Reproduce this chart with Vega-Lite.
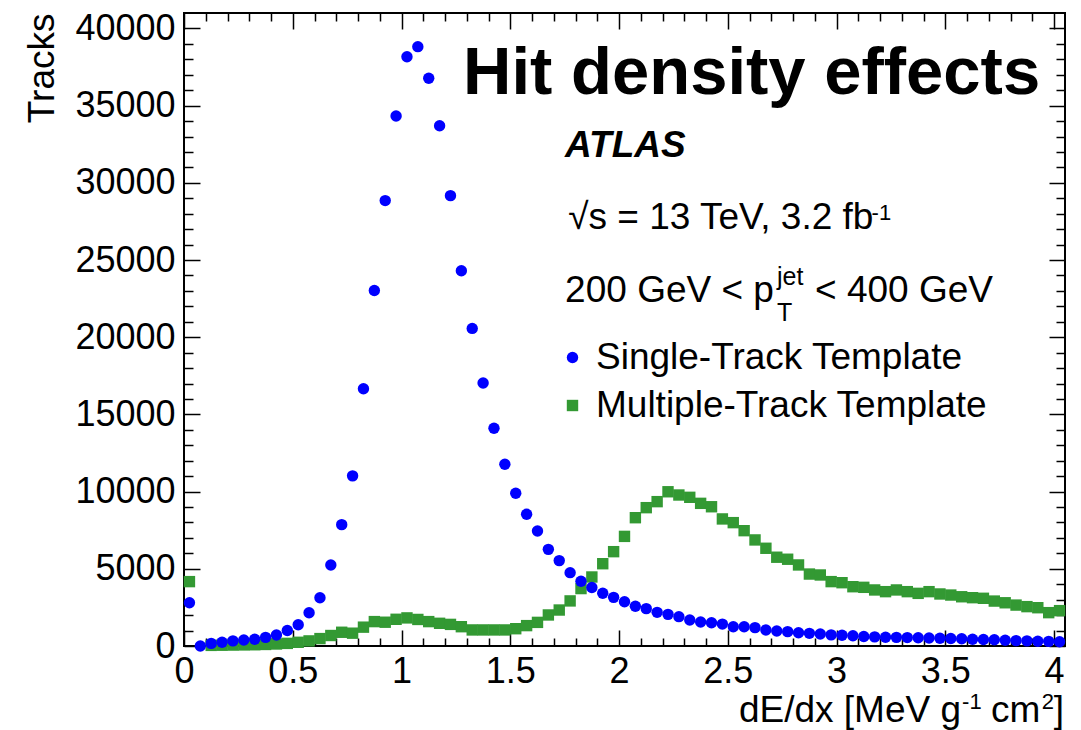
{
  "$schema": "https://vega.github.io/schema/vega-lite/v6.json",
  "width": 881,
  "height": 633,
  "autosize": "none",
  "padding": {"left": 184, "top": 13, "right": 16, "bottom": 84},
  "background": "white",
  "config": {
    "view": {"stroke": "black", "strokeWidth": 2},
    "font": "Liberation Sans",
    "axis": {"grid": false, "domain": false, "labelFont": "Liberation Sans", "labelFontSize": 36, "labelColor": "black", "tickColor": "black", "tickWidth": 1.5, "labelFlush": false, "labelOverlap": false, "labelBound": false, "title": null}
  },
  "datasets": {
    "tracks": [
      {"template": "Multiple-Track Template", "dedx": 0.025, "tracks": 4170},
      {"template": "Multiple-Track Template", "dedx": 0.125, "tracks": 40},
      {"template": "Multiple-Track Template", "dedx": 0.175, "tracks": 50},
      {"template": "Multiple-Track Template", "dedx": 0.225, "tracks": 60},
      {"template": "Multiple-Track Template", "dedx": 0.275, "tracks": 70},
      {"template": "Multiple-Track Template", "dedx": 0.325, "tracks": 80},
      {"template": "Multiple-Track Template", "dedx": 0.375, "tracks": 100},
      {"template": "Multiple-Track Template", "dedx": 0.425, "tracks": 130},
      {"template": "Multiple-Track Template", "dedx": 0.475, "tracks": 170},
      {"template": "Multiple-Track Template", "dedx": 0.525, "tracks": 240},
      {"template": "Multiple-Track Template", "dedx": 0.575, "tracks": 330},
      {"template": "Multiple-Track Template", "dedx": 0.625, "tracks": 480},
      {"template": "Multiple-Track Template", "dedx": 0.675, "tracks": 680},
      {"template": "Multiple-Track Template", "dedx": 0.725, "tracks": 890},
      {"template": "Multiple-Track Template", "dedx": 0.775, "tracks": 830},
      {"template": "Multiple-Track Template", "dedx": 0.825, "tracks": 1220},
      {"template": "Multiple-Track Template", "dedx": 0.875, "tracks": 1580},
      {"template": "Multiple-Track Template", "dedx": 0.925, "tracks": 1540},
      {"template": "Multiple-Track Template", "dedx": 0.975, "tracks": 1730},
      {"template": "Multiple-Track Template", "dedx": 1.025, "tracks": 1820},
      {"template": "Multiple-Track Template", "dedx": 1.075, "tracks": 1720},
      {"template": "Multiple-Track Template", "dedx": 1.125, "tracks": 1580},
      {"template": "Multiple-Track Template", "dedx": 1.175, "tracks": 1470},
      {"template": "Multiple-Track Template", "dedx": 1.225, "tracks": 1400},
      {"template": "Multiple-Track Template", "dedx": 1.275, "tracks": 1250},
      {"template": "Multiple-Track Template", "dedx": 1.325, "tracks": 1040},
      {"template": "Multiple-Track Template", "dedx": 1.375, "tracks": 1040},
      {"template": "Multiple-Track Template", "dedx": 1.425, "tracks": 1040},
      {"template": "Multiple-Track Template", "dedx": 1.475, "tracks": 1040},
      {"template": "Multiple-Track Template", "dedx": 1.525, "tracks": 1120},
      {"template": "Multiple-Track Template", "dedx": 1.575, "tracks": 1320},
      {"template": "Multiple-Track Template", "dedx": 1.625, "tracks": 1530},
      {"template": "Multiple-Track Template", "dedx": 1.675, "tracks": 2010},
      {"template": "Multiple-Track Template", "dedx": 1.725, "tracks": 2330},
      {"template": "Multiple-Track Template", "dedx": 1.775, "tracks": 2920},
      {"template": "Multiple-Track Template", "dedx": 1.825, "tracks": 3720},
      {"template": "Multiple-Track Template", "dedx": 1.875, "tracks": 4470},
      {"template": "Multiple-Track Template", "dedx": 1.925, "tracks": 5330},
      {"template": "Multiple-Track Template", "dedx": 1.975, "tracks": 6110},
      {"template": "Multiple-Track Template", "dedx": 2.025, "tracks": 7100},
      {"template": "Multiple-Track Template", "dedx": 2.075, "tracks": 8310},
      {"template": "Multiple-Track Template", "dedx": 2.125, "tracks": 8960},
      {"template": "Multiple-Track Template", "dedx": 2.175, "tracks": 9350},
      {"template": "Multiple-Track Template", "dedx": 2.225, "tracks": 9990},
      {"template": "Multiple-Track Template", "dedx": 2.275, "tracks": 9780},
      {"template": "Multiple-Track Template", "dedx": 2.325, "tracks": 9630},
      {"template": "Multiple-Track Template", "dedx": 2.375, "tracks": 9240},
      {"template": "Multiple-Track Template", "dedx": 2.425, "tracks": 9020},
      {"template": "Multiple-Track Template", "dedx": 2.475, "tracks": 8230},
      {"template": "Multiple-Track Template", "dedx": 2.525, "tracks": 7990},
      {"template": "Multiple-Track Template", "dedx": 2.575, "tracks": 7470},
      {"template": "Multiple-Track Template", "dedx": 2.625, "tracks": 6870},
      {"template": "Multiple-Track Template", "dedx": 2.675, "tracks": 6330},
      {"template": "Multiple-Track Template", "dedx": 2.725, "tracks": 5750},
      {"template": "Multiple-Track Template", "dedx": 2.775, "tracks": 5620},
      {"template": "Multiple-Track Template", "dedx": 2.825, "tracks": 5250},
      {"template": "Multiple-Track Template", "dedx": 2.875, "tracks": 4660},
      {"template": "Multiple-Track Template", "dedx": 2.925, "tracks": 4600},
      {"template": "Multiple-Track Template", "dedx": 2.975, "tracks": 4170},
      {"template": "Multiple-Track Template", "dedx": 3.025, "tracks": 4100},
      {"template": "Multiple-Track Template", "dedx": 3.075, "tracks": 3840},
      {"template": "Multiple-Track Template", "dedx": 3.125, "tracks": 3800},
      {"template": "Multiple-Track Template", "dedx": 3.175, "tracks": 3630},
      {"template": "Multiple-Track Template", "dedx": 3.225, "tracks": 3520},
      {"template": "Multiple-Track Template", "dedx": 3.275, "tracks": 3630},
      {"template": "Multiple-Track Template", "dedx": 3.325, "tracks": 3520},
      {"template": "Multiple-Track Template", "dedx": 3.375, "tracks": 3410},
      {"template": "Multiple-Track Template", "dedx": 3.425, "tracks": 3520},
      {"template": "Multiple-Track Template", "dedx": 3.475, "tracks": 3370},
      {"template": "Multiple-Track Template", "dedx": 3.525, "tracks": 3300},
      {"template": "Multiple-Track Template", "dedx": 3.575, "tracks": 3190},
      {"template": "Multiple-Track Template", "dedx": 3.625, "tracks": 3130},
      {"template": "Multiple-Track Template", "dedx": 3.675, "tracks": 3090},
      {"template": "Multiple-Track Template", "dedx": 3.725, "tracks": 2910},
      {"template": "Multiple-Track Template", "dedx": 3.775, "tracks": 2800},
      {"template": "Multiple-Track Template", "dedx": 3.825, "tracks": 2650},
      {"template": "Multiple-Track Template", "dedx": 3.875, "tracks": 2550},
      {"template": "Multiple-Track Template", "dedx": 3.925, "tracks": 2480},
      {"template": "Multiple-Track Template", "dedx": 3.975, "tracks": 2160},
      {"template": "Multiple-Track Template", "dedx": 4.025, "tracks": 2290},
      {"template": "Single-Track Template", "dedx": 0.025, "tracks": 2800},
      {"template": "Single-Track Template", "dedx": 0.075, "tracks": 0},
      {"template": "Single-Track Template", "dedx": 0.125, "tracks": 170},
      {"template": "Single-Track Template", "dedx": 0.175, "tracks": 240},
      {"template": "Single-Track Template", "dedx": 0.225, "tracks": 330},
      {"template": "Single-Track Template", "dedx": 0.275, "tracks": 390},
      {"template": "Single-Track Template", "dedx": 0.325, "tracks": 440},
      {"template": "Single-Track Template", "dedx": 0.375, "tracks": 560},
      {"template": "Single-Track Template", "dedx": 0.425, "tracks": 710},
      {"template": "Single-Track Template", "dedx": 0.475, "tracks": 1000},
      {"template": "Single-Track Template", "dedx": 0.525, "tracks": 1380},
      {"template": "Single-Track Template", "dedx": 0.575, "tracks": 2150},
      {"template": "Single-Track Template", "dedx": 0.625, "tracks": 3130},
      {"template": "Single-Track Template", "dedx": 0.675, "tracks": 5250},
      {"template": "Single-Track Template", "dedx": 0.725, "tracks": 7860},
      {"template": "Single-Track Template", "dedx": 0.775, "tracks": 11020},
      {"template": "Single-Track Template", "dedx": 0.825, "tracks": 16660},
      {"template": "Single-Track Template", "dedx": 0.875, "tracks": 23030},
      {"template": "Single-Track Template", "dedx": 0.925, "tracks": 28850},
      {"template": "Single-Track Template", "dedx": 0.975, "tracks": 34330},
      {"template": "Single-Track Template", "dedx": 1.025, "tracks": 38170},
      {"template": "Single-Track Template", "dedx": 1.075, "tracks": 38820},
      {"template": "Single-Track Template", "dedx": 1.125, "tracks": 36770},
      {"template": "Single-Track Template", "dedx": 1.175, "tracks": 33700},
      {"template": "Single-Track Template", "dedx": 1.225, "tracks": 29170},
      {"template": "Single-Track Template", "dedx": 1.275, "tracks": 24310},
      {"template": "Single-Track Template", "dedx": 1.325, "tracks": 20570},
      {"template": "Single-Track Template", "dedx": 1.375, "tracks": 17030},
      {"template": "Single-Track Template", "dedx": 1.425, "tracks": 14100},
      {"template": "Single-Track Template", "dedx": 1.475, "tracks": 11770},
      {"template": "Single-Track Template", "dedx": 1.525, "tracks": 9890},
      {"template": "Single-Track Template", "dedx": 1.575, "tracks": 8530},
      {"template": "Single-Track Template", "dedx": 1.625, "tracks": 7450},
      {"template": "Single-Track Template", "dedx": 1.675, "tracks": 6260},
      {"template": "Single-Track Template", "dedx": 1.725, "tracks": 5530},
      {"template": "Single-Track Template", "dedx": 1.775, "tracks": 4750},
      {"template": "Single-Track Template", "dedx": 1.825, "tracks": 4190},
      {"template": "Single-Track Template", "dedx": 1.875, "tracks": 3790},
      {"template": "Single-Track Template", "dedx": 1.925, "tracks": 3420},
      {"template": "Single-Track Template", "dedx": 1.975, "tracks": 3150},
      {"template": "Single-Track Template", "dedx": 2.025, "tracks": 2870},
      {"template": "Single-Track Template", "dedx": 2.075, "tracks": 2570},
      {"template": "Single-Track Template", "dedx": 2.125, "tracks": 2420},
      {"template": "Single-Track Template", "dedx": 2.175, "tracks": 2180},
      {"template": "Single-Track Template", "dedx": 2.225, "tracks": 2050},
      {"template": "Single-Track Template", "dedx": 2.275, "tracks": 1900},
      {"template": "Single-Track Template", "dedx": 2.325, "tracks": 1680},
      {"template": "Single-Track Template", "dedx": 2.375, "tracks": 1550},
      {"template": "Single-Track Template", "dedx": 2.425, "tracks": 1510},
      {"template": "Single-Track Template", "dedx": 2.475, "tracks": 1420},
      {"template": "Single-Track Template", "dedx": 2.525, "tracks": 1250},
      {"template": "Single-Track Template", "dedx": 2.575, "tracks": 1250},
      {"template": "Single-Track Template", "dedx": 2.625, "tracks": 1190},
      {"template": "Single-Track Template", "dedx": 2.675, "tracks": 1040},
      {"template": "Single-Track Template", "dedx": 2.725, "tracks": 970},
      {"template": "Single-Track Template", "dedx": 2.775, "tracks": 930},
      {"template": "Single-Track Template", "dedx": 2.825, "tracks": 860},
      {"template": "Single-Track Template", "dedx": 2.875, "tracks": 820},
      {"template": "Single-Track Template", "dedx": 2.925, "tracks": 780},
      {"template": "Single-Track Template", "dedx": 2.975, "tracks": 720},
      {"template": "Single-Track Template", "dedx": 3.025, "tracks": 700},
      {"template": "Single-Track Template", "dedx": 3.075, "tracks": 660},
      {"template": "Single-Track Template", "dedx": 3.125, "tracks": 620},
      {"template": "Single-Track Template", "dedx": 3.175, "tracks": 590},
      {"template": "Single-Track Template", "dedx": 3.225, "tracks": 570},
      {"template": "Single-Track Template", "dedx": 3.275, "tracks": 560},
      {"template": "Single-Track Template", "dedx": 3.325, "tracks": 545},
      {"template": "Single-Track Template", "dedx": 3.375, "tracks": 530},
      {"template": "Single-Track Template", "dedx": 3.425, "tracks": 515},
      {"template": "Single-Track Template", "dedx": 3.475, "tracks": 500},
      {"template": "Single-Track Template", "dedx": 3.525, "tracks": 485},
      {"template": "Single-Track Template", "dedx": 3.575, "tracks": 465},
      {"template": "Single-Track Template", "dedx": 3.625, "tracks": 440},
      {"template": "Single-Track Template", "dedx": 3.675, "tracks": 420},
      {"template": "Single-Track Template", "dedx": 3.725, "tracks": 400},
      {"template": "Single-Track Template", "dedx": 3.775, "tracks": 370},
      {"template": "Single-Track Template", "dedx": 3.825, "tracks": 350},
      {"template": "Single-Track Template", "dedx": 3.875, "tracks": 330},
      {"template": "Single-Track Template", "dedx": 3.925, "tracks": 310},
      {"template": "Single-Track Template", "dedx": 3.975, "tracks": 300},
      {"template": "Single-Track Template", "dedx": 4.025, "tracks": 280}
    ]
  },
  "layer": [
    {
      "data": {"name": "tracks"},
      "mark": {"type": "point", "filled": true, "size": 130, "opacity": 1, "strokeWidth": 0},
      "encoding": {
        "x": {"field": "dedx", "type": "quantitative", "scale": {"domain": [0, 4.05], "nice": false, "zero": false},
          "axis": {"orient": "bottom", "values": [0, 0.5, 1, 1.5, 2, 2.5, 3, 3.5, 4], "ticks": false, "labelPadding": 36, "labelBaseline": "alphabetic", "format": "~g", "title": null}},
        "y": {"field": "tracks", "type": "quantitative", "scale": {"domain": [0, 41000], "nice": false, "zero": false},
          "axis": {"orient": "left", "values": [0, 5000, 10000, 15000, 20000, 25000, 30000, 35000, 40000], "ticks": false, "labelPadding": 9, "format": "d",
            "title": "Tracks", "titleFont": "Liberation Sans", "titleFontSize": 37, "titleFontWeight": "normal", "titleColor": "black", "titleAngle": 270, "titleAlign": "right", "titleBaseline": "alphabetic", "titleX": -131, "titleY": 0}},
        "color": {"field": "template", "type": "nominal", "scale": {"domain": ["Single-Track Template", "Multiple-Track Template"], "range": ["#0000ff", "#339933"]},
          "legend": {"orient": "none", "legendX": 370, "legendY": 326, "title": null, "labelFontSize": 37, "labelFont": "Liberation Sans", "labelColor": "black", "symbolSize": 130, "symbolStrokeWidth": 0, "labelOffset": 5, "rowPadding": 10, "padding": 0, "labelLimit": 600}},
        "shape": {"field": "template", "type": "nominal", "scale": {"domain": ["Single-Track Template", "Multiple-Track Template"], "range": ["circle", "square"]},
          "legend": {"orient": "none", "legendX": 370, "legendY": 326, "title": null, "labelFontSize": 37, "labelFont": "Liberation Sans", "labelColor": "black", "symbolSize": 130, "symbolStrokeWidth": 0, "labelOffset": 5, "rowPadding": 10, "padding": 0, "labelLimit": 600}}
      }
    },
    {
      "data": {"values": [{}]},
      "mark": {"type": "text", "text": "Hit density effects", "font": "Liberation Sans", "fontSize": 67, "fontWeight": "bold", "align": "left", "baseline": "alphabetic", "color": "black"},
      "encoding": {
        "x": {"datum": 1.283, "type": "quantitative", "scale": {"domain": [0, 4.05], "nice": false, "zero": false},
          "axis": {"orient": "bottom", "values": [0, 0.5, 1, 1.5, 2, 2.5, 3, 3.5, 4], "labels": false, "tickSize": -16, "title": null}},
        "y": {"datum": 35753, "type": "quantitative", "scale": {"domain": [0, 41000], "nice": false, "zero": false},
          "axis": {"orient": "left", "values": [0, 5000, 10000, 15000, 20000, 25000, 30000, 35000, 40000], "labels": false, "tickSize": -16, "title": null}}
      }
    },
    {
      "data": {"values": [{}]},
      "mark": {"type": "text", "text": "ATLAS", "font": "Liberation Sans", "fontSize": 37, "fontWeight": "bold", "fontStyle": "italic", "align": "left", "baseline": "alphabetic", "color": "black"},
      "encoding": {
        "x": {"datum": 1.752, "type": "quantitative", "scale": {"domain": [0, 4.05], "nice": false, "zero": false},
          "axis": {"orient": "bottom", "values": [0.1, 0.2, 0.3, 0.4, 0.6, 0.7, 0.8, 0.9, 1.1, 1.2, 1.3, 1.4, 1.6, 1.7, 1.8, 1.9, 2.1, 2.2, 2.3, 2.4, 2.6, 2.7, 2.8, 2.9, 3.1, 3.2, 3.3, 3.4, 3.6, 3.7, 3.8, 3.9], "labels": false, "tickSize": -8, "title": null}},
        "y": {"datum": 31705, "type": "quantitative", "scale": {"domain": [0, 41000], "nice": false, "zero": false},
          "axis": {"orient": "left", "values": [1000, 2000, 3000, 4000, 6000, 7000, 8000, 9000, 11000, 12000, 13000, 14000, 16000, 17000, 18000, 19000, 21000, 22000, 23000, 24000, 26000, 27000, 28000, 29000, 31000, 32000, 33000, 34000, 36000, 37000, 38000, 39000], "labels": false, "tickSize": -9, "title": null}}
      }
    },
    {
      "data": {"values": [{}]},
      "mark": {"type": "text", "text": "√s = 13 TeV, 3.2 fb", "font": "Liberation Sans", "fontSize": 37, "align": "left", "baseline": "alphabetic", "color": "black"},
      "encoding": {
        "x": {"datum": 1.766, "type": "quantitative", "scale": {"domain": [0, 4.05], "nice": false, "zero": false},
          "axis": {"orient": "top", "values": [0, 0.5, 1, 1.5, 2, 2.5, 3, 3.5, 4], "labels": false, "tickSize": -16, "title": null}},
        "y": {"datum": 27009, "type": "quantitative", "scale": {"domain": [0, 41000], "nice": false, "zero": false},
          "axis": {"orient": "right", "values": [0, 5000, 10000, 15000, 20000, 25000, 30000, 35000, 40000], "labels": false, "tickSize": -16, "title": null}}
      }
    },
    {
      "data": {"values": [{}]},
      "mark": {"type": "text", "text": "-1", "font": "Liberation Sans", "fontSize": 22, "align": "left", "baseline": "alphabetic", "color": "black"},
      "encoding": {
        "x": {"datum": 3.161, "type": "quantitative", "scale": {"domain": [0, 4.05], "nice": false, "zero": false},
          "axis": {"orient": "top", "values": [0.1, 0.2, 0.3, 0.4, 0.6, 0.7, 0.8, 0.9, 1.1, 1.2, 1.3, 1.4, 1.6, 1.7, 1.8, 1.9, 2.1, 2.2, 2.3, 2.4, 2.6, 2.7, 2.8, 2.9, 3.1, 3.2, 3.3, 3.4, 3.6, 3.7, 3.8, 3.9], "labels": false, "tickSize": -8, "title": null}},
        "y": {"datum": 27605, "type": "quantitative", "scale": {"domain": [0, 41000], "nice": false, "zero": false},
          "axis": {"orient": "right", "values": [1000, 2000, 3000, 4000, 6000, 7000, 8000, 9000, 11000, 12000, 13000, 14000, 16000, 17000, 18000, 19000, 21000, 22000, 23000, 24000, 26000, 27000, 28000, 29000, 31000, 32000, 33000, 34000, 36000, 37000, 38000, 39000], "labels": false, "tickSize": -9, "title": null}}
      }
    },
    {
      "data": {"values": [{}]},
      "mark": {"type": "text", "text": "200 GeV < p", "font": "Liberation Sans", "fontSize": 37, "align": "left", "baseline": "alphabetic", "color": "black"},
      "encoding": {
        "x": {"datum": 1.752, "type": "quantitative", "scale": {"domain": [0, 4.05], "nice": false, "zero": false}, "axis": null},
        "y": {"datum": 22300, "type": "quantitative", "scale": {"domain": [0, 41000], "nice": false, "zero": false}, "axis": null}
      }
    },
    {
      "data": {"values": [{}]},
      "mark": {"type": "text", "text": "jet", "font": "Liberation Sans", "fontSize": 25, "align": "left", "baseline": "alphabetic", "color": "black"},
      "encoding": {
        "x": {"datum": 2.726, "type": "quantitative", "scale": {"domain": [0, 4.05], "nice": false, "zero": false}, "axis": null},
        "y": {"datum": 23390, "type": "quantitative", "scale": {"domain": [0, 41000], "nice": false, "zero": false}, "axis": null}
      }
    },
    {
      "data": {"values": [{}]},
      "mark": {"type": "text", "text": "T", "font": "Liberation Sans", "fontSize": 25, "align": "left", "baseline": "alphabetic", "color": "black"},
      "encoding": {
        "x": {"datum": 2.726, "type": "quantitative", "scale": {"domain": [0, 4.05], "nice": false, "zero": false}, "axis": null},
        "y": {"datum": 21070, "type": "quantitative", "scale": {"domain": [0, 41000], "nice": false, "zero": false}, "axis": null}
      }
    },
    {
      "data": {"values": [{}]},
      "mark": {"type": "text", "text": "< 400 GeV", "font": "Liberation Sans", "fontSize": 37, "align": "left", "baseline": "alphabetic", "color": "black"},
      "encoding": {
        "x": {"datum": 2.901, "type": "quantitative", "scale": {"domain": [0, 4.05], "nice": false, "zero": false}, "axis": null},
        "y": {"datum": 22300, "type": "quantitative", "scale": {"domain": [0, 41000], "nice": false, "zero": false}, "axis": null}
      }
    },
    {
      "data": {"values": [{}]},
      "mark": {"type": "text", "text": "dE/dx [MeV g", "font": "Liberation Sans", "fontSize": 37, "align": "right", "baseline": "alphabetic", "color": "black"},
      "encoding": {
        "x": {"datum": 3.572, "type": "quantitative", "scale": {"domain": [0, 4.05], "nice": false, "zero": false}, "axis": null},
        "y": {"datum": -4923, "type": "quantitative", "scale": {"domain": [0, 41000], "nice": false, "zero": false}, "axis": null}
      }
    },
    {
      "data": {"values": [{}]},
      "mark": {"type": "text", "text": "-1", "font": "Liberation Sans", "fontSize": 22, "align": "left", "baseline": "alphabetic", "color": "black"},
      "encoding": {
        "x": {"datum": 3.577, "type": "quantitative", "scale": {"domain": [0, 4.05], "nice": false, "zero": false}, "axis": null},
        "y": {"datum": -4055, "type": "quantitative", "scale": {"domain": [0, 41000], "nice": false, "zero": false}, "axis": null}
      }
    },
    {
      "data": {"values": [{}]},
      "mark": {"type": "text", "text": "cm", "font": "Liberation Sans", "fontSize": 37, "align": "left", "baseline": "alphabetic", "color": "black"},
      "encoding": {
        "x": {"datum": 3.710, "type": "quantitative", "scale": {"domain": [0, 4.05], "nice": false, "zero": false}, "axis": null},
        "y": {"datum": -4923, "type": "quantitative", "scale": {"domain": [0, 41000], "nice": false, "zero": false}, "axis": null}
      }
    },
    {
      "data": {"values": [{}]},
      "mark": {"type": "text", "text": "2", "font": "Liberation Sans", "fontSize": 22, "align": "left", "baseline": "alphabetic", "color": "black"},
      "encoding": {
        "x": {"datum": 3.943, "type": "quantitative", "scale": {"domain": [0, 4.05], "nice": false, "zero": false}, "axis": null},
        "y": {"datum": -4055, "type": "quantitative", "scale": {"domain": [0, 41000], "nice": false, "zero": false}, "axis": null}
      }
    },
    {
      "data": {"values": [{}]},
      "mark": {"type": "text", "text": "]", "font": "Liberation Sans", "fontSize": 37, "align": "left", "baseline": "alphabetic", "color": "black"},
      "encoding": {
        "x": {"datum": 3.998, "type": "quantitative", "scale": {"domain": [0, 4.05], "nice": false, "zero": false}, "axis": null},
        "y": {"datum": -4923, "type": "quantitative", "scale": {"domain": [0, 41000], "nice": false, "zero": false}, "axis": null}
      }
    }
  ],
  "resolve": {"axis": {"x": "independent", "y": "independent"}}
}
